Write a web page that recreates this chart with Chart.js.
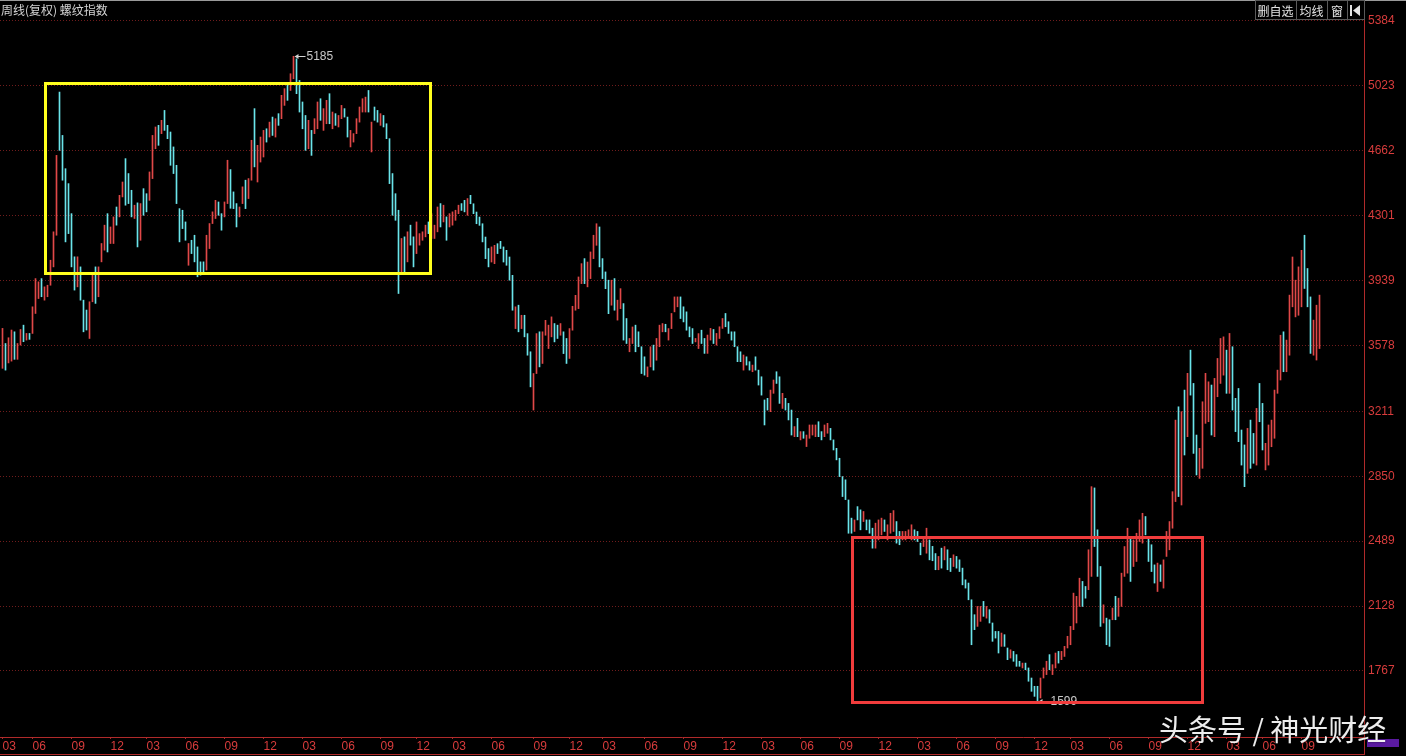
<!DOCTYPE html>
<html>
<head>
<meta charset="utf-8">
<script src="https://cdn.jsdelivr.net/npm/chart.js@4.4.1/dist/chart.umd.min.js"></script>
<style>
  html, body { margin: 0; padding: 0; background: #000; overflow: hidden; }
  canvas { display: block; background: #000; }
</style>
</head>
<body>
<canvas id="kline" width="1406" height="756"></canvas>
<script>
// weekly rebar index (螺纹指数), one entry per week
const highs = [
  3672,3588,3620,3663,3653,3588,3666,3690,3644,3644,
  3792,3949,3931,3949,3903,3912,4051,4209,4634,4986,
  4745,4560,4477,4310,4070,4070,4014,3829,3774,3820,
  3977,4014,4014,4144,4246,4310,4236,4292,4347,4412,
  4486,4616,4533,4440,4357,4370,4366,4449,4421,4542,
  4745,4792,4801,4829,4884,4801,4764,4681,4579,4338,
  4329,4264,4144,4162,4190,4125,4042,4042,4190,4255,
  4320,4384,4375,4310,4375,4607,4555,4431,4366,4347,
  4459,4496,4505,4718,4894,4690,4736,4773,4782,4819,
  4847,4838,4866,4968,5005,5032,5088,5185,5171,5051,
  4931,4856,4829,4773,4838,4931,4949,4894,4940,4977,
  4875,4866,4856,4912,4894,4847,4773,4755,4838,4903,
  4949,4958,4995,4819,4903,4884,4866,4856,4810,4727,
  4533,4421,4329,4172,4181,4209,4246,4181,4264,4199,
  4209,4246,4264,4310,4246,4347,4366,4357,4292,4310,
  4320,4329,4357,4366,4384,4394,4412,4365,4319,4291,
  4254,4180,4116,4125,4134,4143,4156,4125,4106,4069,
  3967,3792,3801,3745,3745,3643,3542,3421,3643,3653,
  3653,3717,3690,3736,3699,3690,3699,3653,3616,3671,
  3795,3856,3958,4032,4060,4041,4097,4190,4254,4236,
  4060,3986,3940,3940,3949,3829,3893,3810,3727,3616,
  3680,3690,3653,3570,3514,3458,3570,3579,3616,3690,
  3699,3695,3671,3755,3847,3847,3847,3792,3764,3680,
  3671,3616,3643,3662,3616,3635,3672,3666,3644,3681,
  3727,3755,3709,3653,3653,3570,3542,3524,3514,3487,
  3468,3514,3440,3403,3274,3283,3329,3385,3431,3403,
  3311,3283,3255,3218,3126,3172,3098,3098,3079,3135,
  3135,3135,3153,3098,3135,3144,3116,3052,3005,2950,
  2848,2830,2718,2617,2607,2681,2663,2654,2607,2607,
  2561,2589,2607,2617,2607,2580,2644,2659,2598,2543,
  2543,2543,2552,2580,2552,2543,2478,2515,2561,2496,
  2460,2420,2404,2450,2459,2441,2394,2413,2404,2385,
  2339,2274,2256,2163,2080,2126,2126,2154,2126,2108,
  2034,1987,1987,1978,1969,1895,1885,1876,1858,1821,
  1811,1811,1784,1728,1682,1682,1728,1784,1821,1858,
  1802,1867,1876,1876,1904,1960,2015,2200,2182,2283,
  2265,2237,2441,2792,2785,2552,2348,2135,2061,2052,
  2117,2182,2172,2311,2459,2561,2515,2496,2533,2607,
  2644,2626,2515,2469,2357,2367,2357,2385,2543,2598,
  2764,3162,3236,3209,3329,3422,3551,3366,3079,3005,
  3264,3422,3375,3357,3394,3505,3616,3625,3551,3644,
  3570,3283,3338,3107,3024,3116,3162,3088,3227,3366,
  3255,3033,3135,3162,3329,3440,3634,3653,3607,3857,
  4069,3940,4014,4106,4190,4005,3847,3718,3801,3857
];
const lows = [
  3450,3440,3480,3490,3500,3500,3579,3598,3607,3611,
  3644,3755,3838,3848,3829,3848,3912,4014,4190,4662,
  4496,4153,4199,4014,3885,3903,3829,3653,3663,3616,
  3820,3811,3848,4042,4107,4097,4144,4144,4246,4292,
  4403,4357,4366,4292,4283,4125,4162,4301,4320,4384,
  4505,4671,4690,4755,4773,4727,4579,4533,4366,4153,
  4227,4162,4023,4088,4042,3959,3968,3977,3996,4116,
  4255,4283,4301,4218,4292,4366,4340,4338,4236,4292,
  4366,4338,4394,4496,4570,4486,4597,4625,4708,4736,
  4745,4736,4801,4838,4912,4940,4995,5060,4977,4875,
  4782,4662,4671,4634,4755,4782,4829,4773,4810,4810,
  4782,4801,4792,4838,4847,4736,4681,4708,4755,4819,
  4875,4875,4875,4653,4829,4819,4801,4792,4727,4477,
  4301,4273,3866,3986,3986,4042,4135,4014,4088,4135,
  4162,4181,4199,4172,4172,4209,4236,4264,4162,4236,
  4246,4273,4310,4328,4320,4301,4365,4310,4254,4245,
  4153,4060,4014,4041,4032,4088,4116,4041,4023,3940,
  3773,3671,3653,3671,3625,3523,3347,3218,3421,3458,
  3477,3634,3560,3625,3597,3616,3634,3532,3477,3505,
  3662,3773,3782,3921,3921,3903,3949,4060,4134,4014,
  3949,3893,3754,3801,3773,3718,3782,3607,3588,3542,
  3588,3542,3570,3421,3412,3403,3458,3440,3495,3570,
  3653,3653,3607,3671,3764,3792,3727,3708,3662,3625,
  3588,3597,3560,3588,3533,3533,3607,3588,3579,3616,
  3672,3681,3644,3607,3570,3487,3487,3440,3468,3440,
  3431,3440,3357,3301,3135,3218,3209,3311,3366,3255,
  3227,3218,3163,3079,3070,3070,3052,3061,3015,3061,
  3079,3070,3070,3052,3070,3089,3052,2996,2941,2848,
  2737,2720,2533,2533,2543,2607,2552,2598,2552,2533,
  2450,2450,2496,2524,2543,2496,2533,2543,2478,2469,
  2496,2496,2515,2496,2496,2487,2413,2459,2422,2385,
  2380,2330,2330,2339,2385,2330,2320,2348,2339,2320,
  2246,2228,2163,1913,1997,2015,2043,2071,2061,2034,
  1932,1950,1867,1904,1904,1830,1839,1821,1793,1793,
  1784,1774,1710,1654,1626,1599,1617,1728,1747,1774,
  1747,1784,1811,1830,1848,1895,1913,1997,2034,2126,
  2126,2172,2219,2293,2459,2293,2015,2034,1913,1904,
  2052,2052,2071,2126,2293,2311,2265,2348,2376,2487,
  2478,2524,2376,2320,2256,2209,2265,2228,2404,2441,
  2561,2709,2737,2690,2968,3070,3301,2977,2857,2838,
  2894,3144,3153,3079,3070,3292,3366,3412,3311,3311,
  3218,3098,3042,2912,2792,2866,2894,2922,2912,3153,
  2996,2885,2912,3014,3061,3311,3385,3431,3431,3523,
  3792,3736,3745,3792,3894,3792,3533,3523,3496,3560
];
// 1 = close above open (red), 0 = close below open (cyan)
const ups = [
  1,0,1,1,0,1,1,0,1,0, 1,1,1,0,1,1,1,1,1,0, 0,0,0,0,0,1,0,0,0,1,
  1,0,1,1,1,0,1,1,0,1, 1,0,0,0,1,0,1,0,0,1, 1,1,0,1,0,0,0,0,0,0,
  0,0,1,0,0,0,0,0,1,1, 1,1,0,0,1,1,0,0,0,1, 1,0,1,1,0,1,1,1,0,1,
  0,1,0,1,1,0,1,1,0,0, 0,0,1,0,1,1,0,1,1,0, 1,0,1,1,0,0,1,1,1,1,
  1,1,0,1,0,0,1,0,0,0, 0,0,0,1,0,1,0,0,1,1, 1,1,0,1,1,1,0,1,0,1,
  1,1,1,0,0,1,0,0,0,0, 0,0,0,1,1,0,0,0,0,0, 0,1,0,1,0,0,0,1,1,0,
  1,1,1,1,0,0,1,0,0,1, 1,1,1,1,0,1,1,1,1,0, 0,0,0,1,0,1,1,0,0,1,
  1,0,0,0,0,1,1,0,1,1, 1,0,1,1,1,1,0,0,0,0, 0,1,1,0,0,1,1,0,1,1,
  1,0,0,0,0,0,0,1,0,0, 1,0,0,0,0,0,1,1,0,0, 1,0,0,0,1,0,1,0,1,1,
  1,1,0,0,1,1,0,0,0,0, 0,0,0,0,1,0,0,1,0,0, 0,1,1,1,0,1,1,1,0,0,
  1,1,1,1,0,0,0,1,1,0, 0,0,1,0,1,0,0,1,0,0, 0,0,0,0,0,1,1,0,1,0,
  0,0,0,1,0,0,1,0,0,0, 1,0,0,0,0,0,1,1,1,0, 1,1,0,1,1,1,1,1,1,1,
  0,0,1,1,0,0,0,1,0,0, 1,0,1,1,1,1,0,1,1,1, 1,0,0,0,0,1,0,1,1,1,
  1,1,0,1,0,1,0,0,0,1, 1,1,1,0,1,1,1,1,0,1, 0,0,0,0,0,1,0,0,1,0,
  0,1,1,1,1,1,1,0,1,1, 1,1,1,1,0,0,0,1,1,1
];
const slotCount = 455;              // week slots on the axis, last ones still empty
const yTicks = [5384, 5023, 4662, 4301, 3939, 3578, 3211, 2850, 2489, 2128, 1767];
const monthTickIdx = [0,10,23,36,48,61,74,87,100,113,126,138,150,163,177,189,200,214,
  227,240,253,266,279,292,305,318,331,344,356,369,382,395,408,420,433];
const monthTickText = ['03','06','09','12','03','06','09','12','03','06','09','12',
  '03','06','09','12','03','06','09','12','03','06','09','12','03','06','09','12',
  '03','06','09','12','03','06','09'];
// hand-drawn boxes on the screenshot, in week index / price units
const boxes = [
  { from: 14.3, to: 142.6, top: 5036, bottom: 3978, color: '#ffff1e' },
  { from: 283.2, to: 399.8, top: 2514, bottom: 1595, color: '#f03c3c' }
];

const UP = '#e04848';
const DOWN = '#6ae4ea';
const AXIS_RED = '#d83c3c';

const markPrice = (ctx, px, py, value) => {
  const yy = Math.round(py) + 0.5;
  ctx.save();
  ctx.strokeStyle = '#d2d2d2';
  ctx.fillStyle = '#d2d2d2';
  ctx.lineWidth = 1;
  ctx.beginPath();
  ctx.moveTo(px + 2, yy);
  ctx.lineTo(px + 12, yy);
  ctx.stroke();
  ctx.beginPath();
  ctx.moveTo(px + 1, yy);
  ctx.lineTo(px + 5, yy - 2.5);
  ctx.lineTo(px + 5, yy + 2.5);
  ctx.closePath();
  ctx.fill();
  ctx.font = '12px Arial, "Liberation Sans", sans-serif';
  ctx.textBaseline = 'middle';
  ctx.fillStyle = '#c8c8c8';
  ctx.fillText(String(value), px + 13, yy);
  ctx.restore();
};

const overlay = {
  id: 'overlay',
  afterDatasetsDraw(chart) {
    const { ctx, scales: { x, y } } = chart;
    let hi = 0, lo = 0;
    highs.forEach((v, i) => { if (v > highs[hi]) hi = i; });
    lows.forEach((v, i) => { if (v < lows[lo]) lo = i; });
    markPrice(ctx, x.getPixelForValue(hi), y.getPixelForValue(highs[hi]), highs[hi]);
    markPrice(ctx, x.getPixelForValue(lo), y.getPixelForValue(lows[lo]), lows[lo]);

    ctx.save();
    ctx.lineWidth = 3;
    boxes.forEach(b => {
      const l = Math.round(x.getPixelForValue(b.from)) + 0.5;
      const r = Math.round(x.getPixelForValue(b.to)) + 0.5;
      const t = Math.round(y.getPixelForValue(b.top)) + 0.5;
      const btm = Math.round(y.getPixelForValue(b.bottom)) + 0.5;
      ctx.strokeStyle = b.color;
      ctx.strokeRect(l, t, r - l, btm - t);
    });
    ctx.restore();
  },
  afterDraw(chart) {
    const { ctx, chartArea } = chart;
    ctx.save();
    // top edge and bottom line of the date band
    ctx.fillStyle = '#9a9a9a';
    ctx.fillRect(0, 0, chart.width, 1);
    ctx.strokeStyle = '#b02a2a';
    ctx.lineWidth = 1;
    ctx.beginPath();
    ctx.moveTo(0, 754.5);
    ctx.lineTo(chartArea.right, 754.5);
    ctx.moveTo(chartArea.right + 0.5, chartArea.bottom);
    ctx.lineTo(chartArea.right + 0.5, 755);
    ctx.stroke();

    // title
    ctx.font = '12px "Noto Sans CJK SC", sans-serif';
    ctx.textBaseline = 'middle';
    ctx.fillStyle = '#d4d4d4';
    ctx.fillText('周线(复权) 螺纹指数', 1, 10);

    // buttons in the top right corner
    const btns = [['删自选', 1255, 1296], ['均线', 1296, 1327], ['窗', 1327, 1347], ['', 1347, chartArea.right]];
    ctx.strokeStyle = '#5a5a5a';
    btns.forEach(([txt, a, b]) => {
      ctx.fillStyle = '#000';
      ctx.fillRect(a, 1, b - a, 19);
      ctx.strokeRect(a + 0.5, 0.5, b - a, 19);
      ctx.fillStyle = '#e4e4e4';
      ctx.textAlign = 'center';
      ctx.fillText(txt, (a + b) / 2, 11);
    });
    ctx.fillStyle = '#e4e4e4';
    ctx.fillRect(1350, 5, 2, 11);
    ctx.beginPath();
    ctx.moveTo(1353, 10.5);
    ctx.lineTo(1360, 5);
    ctx.lineTo(1360, 16);
    ctx.closePath();
    ctx.fill();

    // small cursor tag on the date band
    ctx.fillStyle = '#5a1aa0';
    ctx.fillRect(1367, 739, 32, 8);

    // watermark
    ctx.textAlign = 'left';
    ctx.font = '29px "Noto Sans CJK SC", sans-serif';
    ctx.shadowColor = 'rgba(0,0,0,0.7)';
    ctx.shadowBlur = 2;
    ctx.fillStyle = 'rgba(255,255,255,0.93)';
    ctx.fillText('头条号 / 神光财经', 1159, 730);
    ctx.restore();
  }
};

new Chart(document.getElementById('kline'), {
  type: 'bar',
  data: {
    datasets: [{
      data: highs.map((h, i) => ({ x: i, y: [lows[i], h] })),
      backgroundColor: ups.map(u => (u ? UP : DOWN)),
      borderWidth: 0,
      barThickness: 1
    }]
  },
  options: {
    responsive: false,
    devicePixelRatio: 1,
    animation: false,
    layout: { padding: 0 },
    plugins: { legend: { display: false }, tooltip: { enabled: false } },
    scales: {
      x: {
        type: 'linear',
        offset: false,
        min: -2.5 / 3,
        max: slotCount - 1 - 1 / 6,
        afterFit: s => { s.height = 19; s.paddingLeft = 0; s.paddingRight = 0; },
        afterBuildTicks: s => { s.ticks = monthTickIdx.map(v => ({ value: v })); },
        ticks: {
          autoSkip: false,
          maxRotation: 0,
          align: 'start',
          padding: 0,
          color: AXIS_RED,
          font: { family: 'Arial, "Liberation Sans", sans-serif', size: 12 },
          callback: (v, i) => monthTickText[i]
        },
        grid: { offset: false, drawOnChartArea: false, tickLength: 2, color: '#a02a2a' },
        border: { color: '#b02a2a' }
      },
      y: {
        position: 'right',
        min: 1400,
        max: 5498,
        afterFit: s => { s.width = 42; s.paddingTop = 0; s.paddingBottom = 0; },
        afterBuildTicks: s => { s.ticks = yTicks.map(v => ({ value: v })); },
        ticks: {
          color: AXIS_RED,
          padding: 4,
          font: { family: 'Arial, "Liberation Sans", sans-serif', size: 12 },
          callback: v => String(v)
        },
        grid: { drawTicks: false, color: '#701c1c' },
        border: { color: '#b02a2a', dash: [1, 2] }
      }
    }
  },
  plugins: [overlay]
});
</script>
</body>
</html>
